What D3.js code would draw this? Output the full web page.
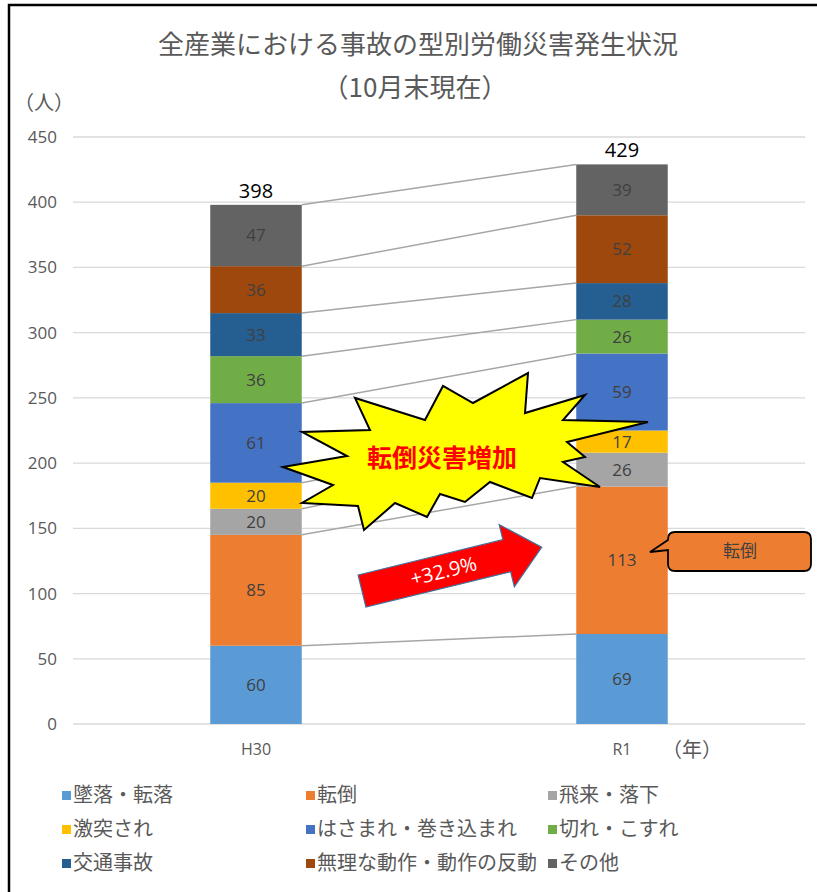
<!DOCTYPE html>
<html>
<head>
<meta charset="utf-8">
<script src="https://cdn.jsdelivr.net/npm/d3@7"></script>
<style>
  body { margin: 0; background: #fff; }
  text { font-family: "Noto Sans CJK JP", "Noto Sans", sans-serif; }
</style>
</head>
<body>
<div class="chart"></div>
<script>
const categories = ['H30', 'R1'];
const seriesNames = ['墜落・転落', '転倒', '飛来・落下', '激突され', 'はさまれ・巻き込まれ', '切れ・こすれ', '交通事故', '無理な動作・動作の反動', 'その他'];
const valuesH30 = [60, 85, 20, 20, 61, 36, 33, 36, 47];
const valuesR1 = [69, 113, 26, 17, 59, 26, 28, 52, 39];
const seriesColors = ['#5B9BD5', '#ED7D31', '#A5A5A5', '#FFC000', '#4472C4', '#70AD47', '#255E91', '#9E480E', '#636363'];
const yTicks = [0, 50, 100, 150, 200, 250, 300, 350, 400, 450];
const increaseLabel = '+32.9%';

const width = 817;
const height = 892;

const svg = d3.select('.chart')
	.append('svg')
	.attr('width', width)
	.attr('height', height);

// frame
svg.append('rect')
	.attr('x', 9)
	.attr('y', 5)
	.attr('width', 900)
	.attr('height', 1000)
	.attr('fill', 'none')
	.attr('stroke', '#000')
	.attr('stroke-width', 2.5);

// titles
svg.append('text')
	.attr('x', 418).attr('y', 54)
	.attr('text-anchor', 'middle')
	.style('font-size', '26px')
	.style('fill', '#595959')
	.text('全産業における事故の型別労働災害発生状況');
svg.append('text')
	.attr('x', 415).attr('y', 97)
	.attr('text-anchor', 'middle')
	.style('font-size', '26px')
	.style('fill', '#595959')
	.text('（10月末現在）');
svg.append('text')
	.attr('x', 14).attr('y', 110)
	.style('font-size', '20px')
	.style('fill', '#595959')
	.text('（人）');

const x = d3.scaleBand()
	.domain(categories)
	.range([73, 805])
	.paddingInner(0.75)
	.paddingOuter(0.375);
const y = d3.scaleLinear()
	.domain([0, 450])
	.range([724, 137]);

// gridlines + ticks
svg.append('g')
	.selectAll('line')
	.data(yTicks)
	.enter()
	.append('line')
	.attr('x1', 73)
	.attr('x2', 805)
	.attr('y1', d => y(d))
	.attr('y2', d => y(d))
	.attr('stroke', '#d9d9d9')
	.attr('stroke-width', 1.3);

const yAxis = svg.append('g')
	.attr('transform', 'translate(60,0)')
	.call(d3.axisLeft(y).tickValues(yTicks).tickSize(0).tickPadding(3));
yAxis.select('.domain').remove();
yAxis.selectAll('text')
	.style('font-size', '17px')
	.style('fill', '#595959')
	.style('font-family', '"Open Sans", sans-serif');

const xAxis = svg.append('g')
	.attr('transform', 'translate(0,724)')
	.call(d3.axisBottom(x).tickSize(0).tickPadding(20));
xAxis.select('.domain').remove();
xAxis.selectAll('text')
	.style('font-size', '16px')
	.style('fill', '#595959')
	.style('font-family', '"Open Sans", sans-serif');

svg.append('text')
	.attr('x', 662).attr('y', 757)
	.style('font-size', '20px')
	.style('fill', '#595959')
	.text('（年）');

// stacked data
const rows = categories.map((c, i) => {
	const vals = i === 0 ? valuesH30 : valuesR1;
	const row = { category: c };
	seriesNames.forEach((s, j) => row[s] = vals[j]);
	return row;
});
const stacked = d3.stack().keys(seriesNames)(rows);

// connector lines between stacks
const bw = x.bandwidth();
svg.append('g')
	.selectAll('line')
	.data(stacked)
	.enter()
	.append('line')
	.attr('x1', x('H30') + bw)
	.attr('y1', d => y(d[0][1]))
	.attr('x2', x('R1'))
	.attr('y2', d => y(d[1][1]))
	.attr('stroke', '#a6a6a6')
	.attr('stroke-width', 1.5);

const layer = svg.append('g')
	.selectAll('g')
	.data(stacked)
	.enter()
	.append('g')
	.attr('fill', (d, i) => seriesColors[i]);

layer.selectAll('rect')
	.data(d => d)
	.enter()
	.append('rect')
	.attr('x', d => x(d.data.category))
	.attr('y', d => y(d[1]))
	.attr('width', bw)
	.attr('height', d => y(d[0]) - y(d[1]));

layer.selectAll('text')
	.data(d => d)
	.enter()
	.append('text')
	.attr('x', d => x(d.data.category) + bw / 2)
	.attr('y', d => (y(d[0]) + y(d[1])) / 2)
	.attr('dy', '0.35em')
	.attr('text-anchor', 'middle')
	.style('font-size', '17px')
	.style('font-family', '"Open Sans", sans-serif')
	.style('fill', '#404040')
	.text(d => d[1] - d[0]);

// totals
svg.append('g')
	.selectAll('text')
	.data(rows)
	.enter()
	.append('text')
	.attr('x', d => x(d.category) + bw / 2)
	.attr('y', d => y(d3.sum(seriesNames, s => d[s])) - 7)
	.attr('text-anchor', 'middle')
	.style('font-size', '20px')
	.style('font-family', '"Open Sans", sans-serif')
	.style('fill', '#000')
	.text(d => d3.sum(seriesNames, s => d[s]));

// starburst
const burst = [
	[283, 467], [347, 456], [302, 432], [370, 430], [355, 398], [425, 420],
	[443, 386], [473, 403], [528, 373], [525, 413], [585, 395], [563, 420],
	[648, 422], [567, 442], [585, 457], [563, 462], [600, 487], [540, 478],
	[532, 498], [490, 482], [465, 502], [440, 494], [427, 517], [395, 503],
	[364, 530], [358, 506], [302, 503], [333, 485]
];
svg.append('path')
	.attr('d', d3.line()(burst) + 'Z')
	.attr('fill', '#FFFF00')
	.attr('stroke', '#000')
	.attr('stroke-width', 2)
	.attr('stroke-linejoin', 'miter');
svg.append('text')
	.attr('x', 442).attr('y', 458)
	.attr('dy', '0.35em')
	.attr('text-anchor', 'middle')
	.style('font-size', '25px')
	.style('font-weight', 'bold')
	.style('fill', '#FF0000')
	.text('転倒災害増加');

// arrow
const arrow = svg.append('g')
	.attr('transform', 'translate(362,591) rotate(-13.7)');
arrow.append('path')
	.attr('d', 'M0,-16.5 L149,-16.5 L149,-32 L185,0 L149,32 L149,16.5 L0,16.5 Z')
	.attr('fill', '#FF0000')
	.attr('stroke', '#41719C')
	.attr('stroke-width', 1.2);
arrow.append('text')
	.attr('x', 84).attr('y', 0)
	.attr('dy', '0.35em')
	.attr('text-anchor', 'middle')
	.style('font-size', '20px')
	.style('font-family', '"Open Sans", sans-serif')
	.style('fill', '#fff')
	.text(increaseLabel);

// callout
svg.append('path')
	.attr('d', 'M675,532 L804,532 Q811,532 811,539 L811,564 Q811,571 804,571 L675,571 Q668,571 668,564 L668,550 L650,552 L668,540 L668,539 Q668,532 675,532 Z')
	.attr('fill', '#ED7D31')
	.attr('stroke', '#000')
	.attr('stroke-width', 1.8);
svg.append('text')
	.attr('x', 740).attr('y', 551)
	.attr('dy', '0.35em')
	.attr('text-anchor', 'middle')
	.style('font-size', '17px')
	.style('fill', '#404040')
	.text(seriesNames[1]);

// legend
const legend = svg.append('g')
	.selectAll('g')
	.data(seriesNames)
	.enter()
	.append('g')
	.attr('transform', (d, i) => `translate(${[62, 306, 548][i % 3]},${795 + Math.floor(i / 3) * 34})`);
legend.append('rect')
	.attr('x', 0)
	.attr('y', -4)
	.attr('width', 9)
	.attr('height', 9)
	.attr('fill', (d, i) => seriesColors[i]);
legend.append('text')
	.attr('x', 11)
	.attr('y', 0)
	.attr('dy', '0.35em')
	.style('font-size', '20px')
	.style('fill', '#595959')
	.text(d => d);
</script>
</body>
</html>
